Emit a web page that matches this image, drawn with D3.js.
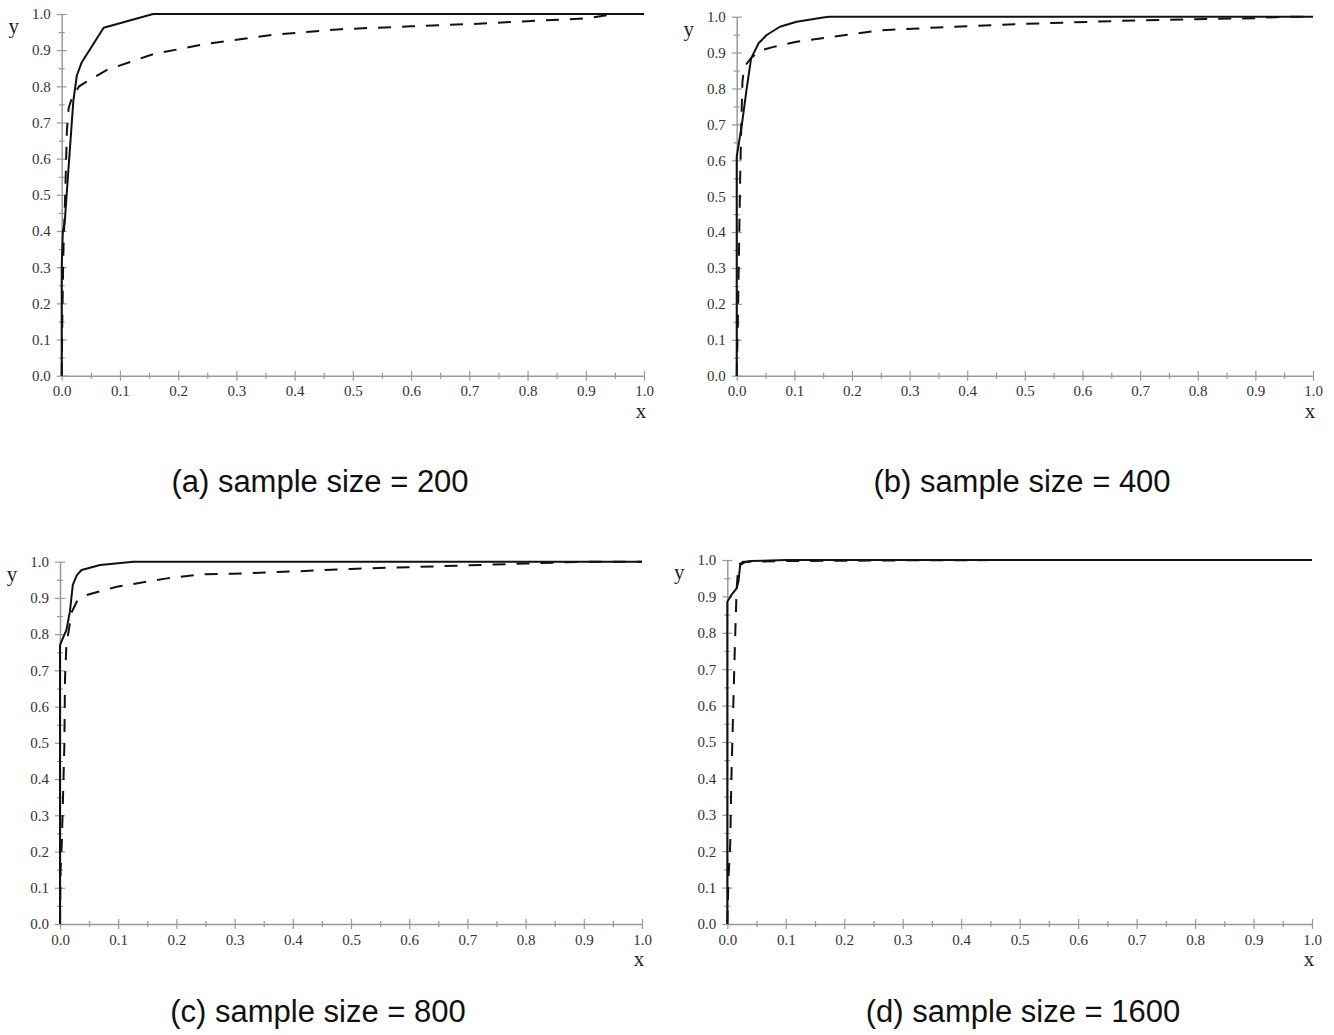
<!DOCTYPE html>
<html>
<head>
<meta charset="utf-8">
<script src="https://cdn.jsdelivr.net/npm/d3@7"></script>
<style>
  body { margin: 0; background: #fff; }
  svg { display: block; }
</style>
</head>
<body>
<svg id="chart" width="1334" height="1035"></svg>
<script>
// Axis ticks (major every 0.1, minor every 0.05)
const majorTicks = [0.0, 0.1, 0.2, 0.3, 0.4, 0.5, 0.6, 0.7, 0.8, 0.9, 1.0];
const minorTicks = [0.05, 0.15, 0.25, 0.35, 0.45, 0.55, 0.65, 0.75, 0.85, 0.95];

const captions = [
  "(a) sample size = 200",
  "(b) sample size = 400",
  "(c) sample size = 800",
  "(d) sample size = 1600"
];

// Curves as [x, y] pairs: solid and dashed for each sample size
const solidA = [[0,0],[0,0.30],[0.002,0.40],[0.005,0.42],[0.012,0.58],[0.020,0.76],[0.026,0.83],
  [0.034,0.865],[0.072,0.962],[0.157,1.0],[1.0,1.0]];
const dashedA = [[0,0],[0.001,0.15],[0.003,0.35],[0.006,0.50],[0.009,0.68],[0.012,0.74],[0.018,0.77],
  [0.030,0.80],[0.040,0.81],[0.077,0.845],[0.157,0.889],[0.25,0.918],[0.364,0.943],[0.48,0.958],
  [0.60,0.966],[0.70,0.972],[0.80,0.980],[0.90,0.988],[0.95,1.0],[1.0,1.0]];

const solidB = [[0,0],[0,0.61],[0.009,0.70],[0.017,0.796],[0.025,0.884],[0.038,0.926],[0.052,0.949],
  [0.075,0.972],[0.104,0.986],[0.150,0.998],[0.16,1.0],[1.0,1.0]];
const dashedB = [[0,0],[0.002,0.15],[0.004,0.35],[0.006,0.55],[0.008,0.70],[0.010,0.82],[0.013,0.86],
  [0.025,0.885],[0.040,0.905],[0.064,0.916],[0.104,0.930],[0.16,0.943],[0.25,0.962],[0.35,0.970],
  [0.50,0.980],[0.70,0.990],[0.90,0.996],[0.95,1.0],[1.0,1.0]];

const solidC = [[0,0],[0,0.77],[0.006,0.793],[0.011,0.811],[0.017,0.862],[0.022,0.936],[0.029,0.963],
  [0.037,0.977],[0.069,0.991],[0.126,1.0],[1.0,1.0]];
const dashedC = [[0,0],[0.001,0.15],[0.003,0.22],[0.006,0.40],[0.0075,0.494],[0.0086,0.678],[0.011,0.77],
  [0.020,0.86],[0.029,0.89],[0.046,0.908],[0.0975,0.931],[0.184,0.954],[0.241,0.965],[0.30,0.967],
  [0.40,0.973],[0.50,0.980],[0.60,0.985],[0.70,0.990],[0.80,0.995],[0.90,1.0],[1.0,1.0]];

const solidD = [[0,0],[0,0.885],[0.007,0.904],[0.016,0.922],[0.019,0.940],[0.022,0.986],[0.030,0.994],
  [0.039,0.997],[0.10,1.0],[1.0,1.0]];
const dashedD = [[0,0],[0.002,0.125],[0.005,0.22],[0.007,0.40],[0.010,0.583],[0.013,0.766],[0.016,0.922],
  [0.019,0.986],[0.027,0.995],[0.10,0.997],[0.30,0.999],[0.50,1.0],[1.0,1.0]];

// Placement of the four panels (plot area edges and caption anchor)
const panels = [
  { solid: solidA, dashed: dashedA, caption: captions[0], left: 61.7,  right: 644,  bottom: 375.7, top: 14,    capX: 320,  capY: 492 },
  { solid: solidB, dashed: dashedB, caption: captions[1], left: 736.7, right: 1313, bottom: 375.7, top: 16.7,  capX: 1022, capY: 492 },
  { solid: solidC, dashed: dashedC, caption: captions[2], left: 60,    right: 642,  bottom: 924,   top: 561.7, capX: 318,  capY: 1022 },
  { solid: solidD, dashed: dashedD, caption: captions[3], left: 727.3, right: 1312, bottom: 924,   top: 560,   capX: 1023, capY: 1022 }
];

const svg = d3.select("#chart");
const fmt = d3.format(".1f");
const axisColor = "#999";
const serif = "'Liberation Serif', 'Times New Roman', serif";

panels.forEach(p => {
  const x = d3.scaleLinear().domain([0, 1]).range([p.left, p.right]);
  const y = d3.scaleLinear().domain([0, 1]).range([p.bottom, p.top]);
  const g = svg.append("g");

  // minor ticks (short, crossing the axis)
  const xMinor = g.append("g").attr("transform", `translate(0,${p.bottom})`)
    .call(d3.axisBottom(x).tickValues(minorTicks).tickSize(3).tickFormat(""));
  xMinor.select(".domain").remove();
  xMinor.selectAll(".tick line").attr("y1", -3).attr("stroke", axisColor).attr("stroke-width", 1.2);

  const yMinor = g.append("g").attr("transform", `translate(${p.left},0)`)
    .call(d3.axisLeft(y).tickValues(minorTicks).tickSize(3).tickFormat(""));
  yMinor.select(".domain").remove();
  yMinor.selectAll(".tick line").attr("x1", 3).attr("stroke", axisColor).attr("stroke-width", 1.2);

  // major ticks with labels
  const xAxis = g.append("g").attr("transform", `translate(0,${p.bottom})`)
    .call(d3.axisBottom(x).tickValues(majorTicks).tickSize(5).tickSizeOuter(0).tickPadding(5).tickFormat(fmt));
  xAxis.select(".domain").attr("stroke", axisColor).attr("stroke-width", 1.5);
  xAxis.selectAll(".tick line").attr("y1", -5).attr("stroke", axisColor).attr("stroke-width", 1.2);
  xAxis.selectAll(".tick text").attr("font-family", serif).attr("font-size", 15).attr("fill", "#333");

  const yAxis = g.append("g").attr("transform", `translate(${p.left},0)`)
    .call(d3.axisLeft(y).tickValues(majorTicks).tickSize(5).tickSizeOuter(0).tickPadding(6).tickFormat(fmt));
  yAxis.select(".domain").attr("stroke", axisColor).attr("stroke-width", 1.5);
  yAxis.selectAll(".tick line").attr("x1", 5).attr("stroke", axisColor).attr("stroke-width", 1.2);
  yAxis.selectAll(".tick text").attr("font-family", serif).attr("font-size", 15).attr("fill", "#333");

  // axis names
  g.append("text").attr("x", p.left - 48).attr("y", p.top + 19)
    .attr("text-anchor", "middle").attr("font-family", serif).attr("font-size", 21).attr("fill", "#222")
    .text("y");
  g.append("text").attr("x", x(1) - 3).attr("y", p.bottom + 42)
    .attr("text-anchor", "middle").attr("font-family", serif).attr("font-size", 21).attr("fill", "#222")
    .text("x");

  const line = d3.line().x(d => x(d[0])).y(d => y(d[1]));

  g.append("path").datum(p.dashed).attr("d", line)
    .attr("fill", "none").attr("stroke", "#111").attr("stroke-width", 2)
    .attr("stroke-dasharray", "13,11");
  g.append("path").datum(p.solid).attr("d", line)
    .attr("fill", "none").attr("stroke", "#111").attr("stroke-width", 2)
    .attr("stroke-linejoin", "round");

  // caption under the panel
  g.append("text").attr("x", p.capX).attr("y", p.capY)
    .attr("text-anchor", "middle")
    .attr("font-family", "'Liberation Sans', Arial, sans-serif")
    .attr("font-size", 31).attr("fill", "#111")
    .text(p.caption);
});
</script>
</body>
</html>
